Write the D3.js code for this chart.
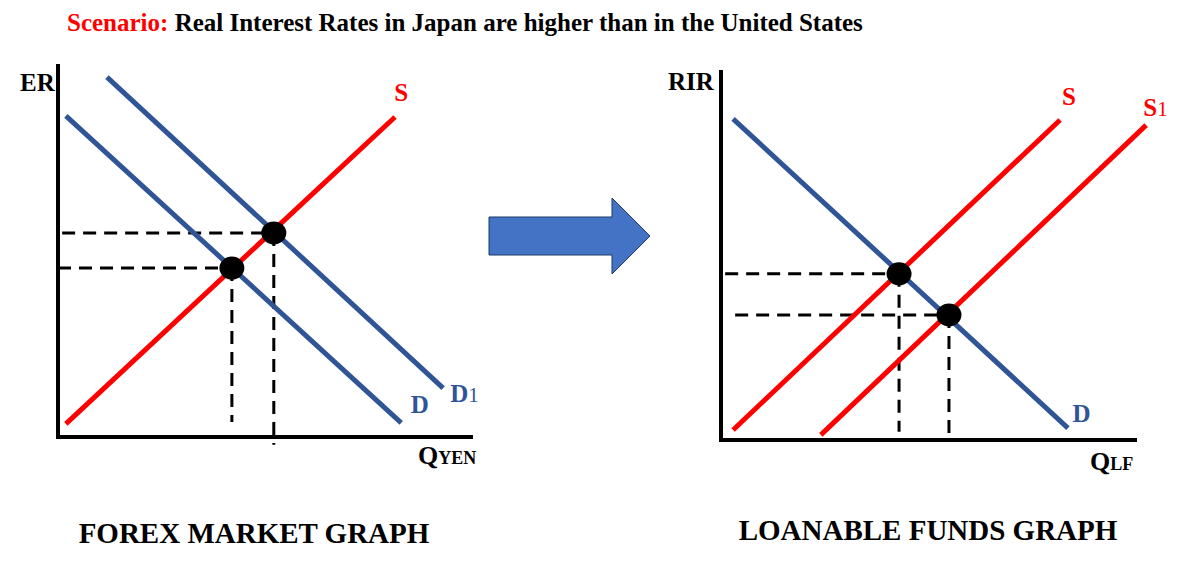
<!DOCTYPE html>
<html>
<head>
<meta charset="utf-8">
<script src="https://cdn.jsdelivr.net/npm/d3@7"></script>
<style>
  body { margin: 0; background: #fff; }
  text { font-family: "Liberation Serif", "DejaVu Serif", serif; font-weight: bold; }
</style>
</head>
<body>
<div id="chart"></div>
<script>
// curve endpoints in graph units (0..10 on both axes)
var forexCurves = [
  {name: "S",  color: "red",  pts: [[0.19, 0.35], [8.12, 8.58]]},
  {name: "D",  color: "blue", pts: [[0.19, 8.61], [8.27, 0.38]]},
  {name: "D1", color: "blue", pts: [[1.18, 9.65], [9.28, 1.31]]}
];
var forexDots = [[4.19, 4.53], [5.20, 5.47]];
var forexDashStart = [0, 0.1];      // where horizontal dashes begin
var forexDashEnd = [0.4, -0.21];    // where vertical dashes end

var lfCurves = [
  {name: "D",  color: "blue", pts: [[0.29, 8.68], [8.34, 0.32]]},
  {name: "S",  color: "red",  pts: [[0.29, 0.27], [8.15, 8.65]]},
  {name: "S1", color: "red",  pts: [[2.40, 0.14], [10.22, 8.51]]}
];
var lfDots = [[4.28, 4.49], [5.48, 3.38]];
var lfDashStart = [0.1, 0.34];
var lfDashEnd = [0.22, 0];

var colors = {red: "#ff0000", blue: "#2f5597"};

var svg = d3.select("#chart").append("svg")
  .attr("width", 1186)
  .attr("height", 570);

// title
var title = svg.append("text").attr("x", 67).attr("y", 31).attr("font-size", 25);
title.append("tspan").attr("fill", "#ff0000").text("Scenario: ");
title.append("tspan").attr("fill", "#000").text("Real Interest Rates in Japan are higher than in the United States");

function drawGraph(opt) {
  var x = d3.scaleLinear().domain([0, 10]).range([opt.x0, opt.x1]);
  var y = d3.scaleLinear().domain([0, 10]).range([opt.y0, opt.y1]);
  var g = svg.append("g");

  var line = d3.line().x(d => x(d[0])).y(d => y(d[1]));

  // dashed guides
  opt.dots.forEach(function(d, i) {
    g.append("path")
      .attr("d", line([[opt.dashStart[i], d[1]], d]))
      .attr("stroke", "#000").attr("stroke-width", 3).attr("stroke-dasharray", "13,8").attr("fill", "none");
    g.append("path")
      .attr("d", line([d, [d[0], opt.dashEnd[i]]]))
      .attr("stroke", "#000").attr("stroke-width", 3).attr("stroke-dasharray", "13,8").attr("fill", "none");
  });

  // curves
  g.selectAll(".curve")
    .data(opt.curves)
    .enter().append("path")
    .attr("class", "curve")
    .attr("d", d => line(d.pts))
    .attr("stroke", d => colors[d.color])
    .attr("stroke-width", 5)
    .attr("fill", "none");

  // axes
  g.append("path")
    .attr("d", line([[0, opt.yTop], [0, 0], [10, 0]]))
    .attr("stroke", "#000").attr("stroke-width", 4).attr("fill", "none");

  // equilibrium dots
  g.selectAll(".dot")
    .data(opt.dots)
    .enter().append("ellipse")
    .attr("cx", d => x(d[0]))
    .attr("cy", d => y(d[1]))
    .attr("rx", 12.5)
    .attr("ry", 11.5)
    .attr("fill", "#000");

  // curve labels
  opt.curves.forEach(function(c) {
    var end = opt.labelAt[c.name];
    var t = g.append("text")
      .attr("x", x(end[0])).attr("y", y(end[1]))
      .attr("fill", colors[c.color]).attr("font-size", 25);
    t.append("tspan").text(c.name[0]);
    if (c.name.length > 1) t.append("tspan").attr("font-size", 21).attr("font-weight", "normal").text(c.name.slice(1));
  });

  // axis labels
  g.append("text").attr("x", opt.yLabel[0]).attr("y", opt.yLabel[1])
    .attr("font-size", 25).attr("fill", "#000").text(opt.yName);
  var q = g.append("text").attr("x", opt.xLabel[0]).attr("y", opt.xLabel[1])
    .attr("font-size", 26).attr("fill", "#000");
  q.append("tspan").text("Q");
  q.append("tspan").attr("font-size", 18).text(opt.xSub);

  // caption
  g.append("text").attr("x", opt.caption[0]).attr("y", opt.caption[1])
    .attr("text-anchor", "middle").attr("font-size", 29).attr("fill", "#000").text(opt.captionText);
}

drawGraph({
  x0: 58, x1: 473, y0: 437, y1: 64, yTop: 10,
  curves: forexCurves, dots: forexDots, dashStart: forexDashStart, dashEnd: forexDashEnd,
  labelAt: {"S": [8.1, 9.0], "D": [8.5, 0.65], "D1": [9.45, 0.95]},
  yName: "ER", yLabel: [20, 91],
  xSub: "YEN", xLabel: [418, 464],
  caption: [254, 543], captionText: "FOREX MARKET GRAPH"
});

drawGraph({
  x0: 721, x1: 1137, y0: 440, y1: 70, yTop: 10,
  curves: lfCurves, dots: lfDots, dashStart: lfDashStart, dashEnd: lfDashEnd,
  labelAt: {"S": [8.2, 9.05], "S1": [10.15, 8.75], "D": [8.45, 0.5]},
  yName: "RIR", yLabel: [668, 90],
  xSub: "LF", xLabel: [1090, 470],
  caption: [928, 540], captionText: "LOANABLE FUNDS GRAPH"
});

// arrow between the graphs
var arrowPts = [[489, 217], [612, 217], [612, 198], [650, 236], [612, 274], [612, 255], [489, 255]];
svg.append("path")
  .attr("d", d3.line()(arrowPts) + "Z")
  .attr("fill", "#4472c4")
  .attr("stroke", "#1f3a66")
  .attr("stroke-width", 1);
</script>
</body>
</html>
